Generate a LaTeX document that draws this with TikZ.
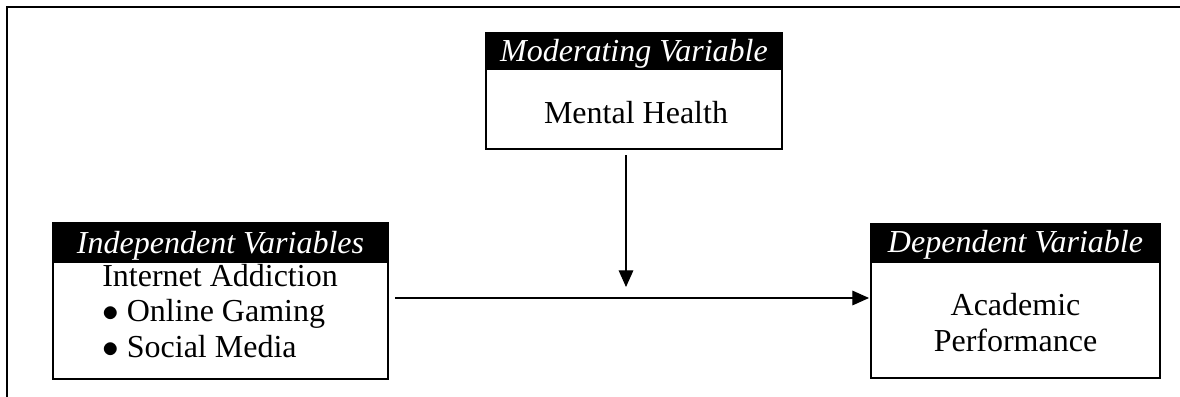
\documentclass[tikz,border=0pt]{standalone}
\usepackage{fontspec}
\setmainfont{Liberation Serif}
\usetikzlibrary{arrows.meta}
\begin{document}
\begin{tikzpicture}[x=0.75pt,y=-0.75pt,
  boxframe/.style={draw=black,line width=1.4pt,fill=white,anchor=north west,inner sep=0pt,outer sep=0pt},
  headbar/.style={fill=black,anchor=north west,inner sep=0pt,outer sep=0pt},
  headtext/.style={text=white,font=\fontsize{24}{26}\selectfont\itshape,anchor=base,inner sep=0pt},
  bodytext/.style={font=\fontsize{24}{26.4}\selectfont,inner sep=0pt},
  conn/.style={line width=0.8pt,-{Triangle[length=12.5pt,width=11pt]}},
  framestyle/.style={line width=2pt}]
\useasboundingbox (0,0) rectangle (1180,396);
% outer frame
\coordinate (ftl) at (7,7);
\coordinate (ftr) at (1181,7);
\coordinate (fbl) at (7,397);
\draw[framestyle] (ftr) -- (ftl) -- (fbl);
% moderating box
\node[boxframe,minimum width=222pt,minimum height=87pt] (mod) at (486,33) {};
\node[headbar,minimum width=222pt,minimum height=27.75pt] (modh) at (486,33) {};
\node[headtext] (modht) at (634,61) {Moderating Variable};
\node[bodytext,anchor=base] (modt) at (636,123) {Mental Health};
% independent box
\node[boxframe,minimum width=251.25pt,minimum height=117pt] (ind) at (53,223) {};
\node[headbar,minimum width=251.25pt,minimum height=30pt] (indh) at (53,223) {};
\node[headtext] (indht) at (220.5,253) {Independent Variables};
\node[bodytext,anchor=base west,align=left] (indt) at (102,357) {Internet Addiction\\$\bullet$\ Online Gaming\\$\bullet$\ Social Media};
% dependent box
\node[boxframe,minimum width=216.75pt,minimum height=115.5pt] (dep) at (871,224) {};
\node[headbar,minimum width=216.75pt,minimum height=29.25pt] (deph) at (871,224) {};
\node[headtext] (depht) at (1015.5,252) {Dependent Variable};
\node[bodytext,anchor=base,align=center] (dept) at (1015.5,351) {Academic\\Performance};
% connectors
\coordinate (hstart) at (395,298);
\coordinate (hend) at (869,298);
\draw[conn] (hstart) -- (hend);
\coordinate (vstart) at (626,155);
\coordinate (vend) at (626,287);
\draw[conn] (vstart) -- (vend);
\end{tikzpicture}
\end{document}
